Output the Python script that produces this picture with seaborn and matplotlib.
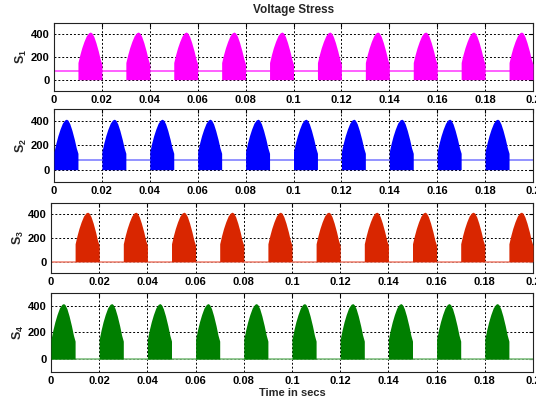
import numpy as np
import pandas as pd
import matplotlib
matplotlib.use("Agg")
import matplotlib.pyplot as plt
import seaborn as sns

# --- data -------------------------------------------------------------
switch_names = ["S1", "S2", "S3", "S4"]
ylabels = [r"$\mathbf{S_1}$", r"$\mathbf{S_2}$", r"$\mathbf{S_3}$", r"$\mathbf{S_4}$"]

# start time of each conducting-stress half cycle (s)
odd_starts = [0.01, 0.03, 0.05, 0.07, 0.09, 0.11, 0.13, 0.15, 0.17, 0.19]
even_starts = [0.00, 0.02, 0.04, 0.06, 0.08, 0.10, 0.12, 0.14, 0.16, 0.18]
half_cycle = 0.01

# envelope of the switched voltage across one half cycle (fraction, volts)
env_frac = [0.0, 0.08, 0.16, 0.25, 0.35, 0.45, 0.52, 0.58, 0.66, 0.75, 0.85, 0.93, 1.0]
env_volts = [150, 220, 280, 335, 385, 412, 418, 410, 380, 325, 250, 180, 135]

# blocking voltage held while the switch is idle (V)
idle_level = [80, 80, 0, 0]

x_ticks = [0, 0.02, 0.04, 0.06, 0.08, 0.1, 0.12, 0.14, 0.16, 0.18, 0.2]
x_ticklabels = ["0", "0.02", "0.04", "0.06", "0.08", "0.1", "0.12", "0.14", "0.16", "0.18", "0.2"]
y_ticks = [0, 200, 400]

# --- styling ----------------------------------------------------------
sns.set_style("white")
plt.rcParams["font.family"] = ["Liberation Sans", "DejaVu Sans"]
plt.rcParams["font.weight"] = "bold"
plt.rcParams["mathtext.fontset"] = "custom"
plt.rcParams["mathtext.bf"] = "Liberation Sans:bold"
plt.rcParams["mathtext.rm"] = "Liberation Sans"

fill_colors = ["#ff00ff", "#0000ff", "#d92600", "#007f00"]
line_colors = ["#ff44ff", "#8080ff", "#f08878", "#80c080"]

starts_by_switch = [odd_starts, even_starts, odd_starts, even_starts]

# axes boxes in figure pixels: left, right, top, bottom
W, H = 536, 401
boxes = [(54, 533, 22.7, 91.0), (54, 533, 109.3, 181.7),
         (51, 533, 202.5, 273.3), (51, 533, 292.7, 372.3)]

fig = plt.figure(figsize=(W / 100, H / 100), dpi=100)
axes = []
for i, name in enumerate(switch_names):
    l, r, t, b = boxes[i]
    ax = fig.add_axes([l / W, 1 - b / H, (r - l) / W, (b - t) / H])
    axes.append(ax)

    idle = pd.DataFrame({"t": [0.0, 0.2], "v": [idle_level[i]] * 2})
    sns.lineplot(data=idle, x="t", y="v", ax=ax, color=line_colors[i],
                 linewidth=1.2, zorder=2)

    for s in starts_by_switch[i]:
        seg = pd.DataFrame({"t": s + np.asarray(env_frac) * half_cycle,
                            "v": env_volts})
        ax.fill_between(seg["t"], 0, seg["v"], color=fill_colors[i],
                        linewidth=0, zorder=3)

    ax.set_xlim(0, 0.2)
    ax.set_ylim(-100, 500)
    ax.set_xticks(x_ticks)
    ax.set_xticklabels(x_ticklabels)
    ax.set_yticks(y_ticks)
    ax.set_xlabel("")
    ax.set_ylabel(ylabels[i], fontsize=9, fontweight="bold")
    ax.yaxis.set_label_coords(-0.052, 0.5)
    ax.grid(True, color="black", linestyle=(0, (2, 2)), linewidth=0.7)
    ax.set_axisbelow(True)
    ax.tick_params(direction="in", length=3, labelsize=8, pad=3,
                   top=True, right=True, colors="black")
    for lab in ax.get_xticklabels() + ax.get_yticklabels():
        lab.set_fontweight("bold")
    for sp in ax.spines.values():
        sp.set_visible(True)
        sp.set_color("#222222")
        sp.set_linewidth(0.8)

axes[0].set_title("Voltage Stress", fontsize=8.5, fontweight="bold", pad=7)
axes[-1].set_xlabel("Time in secs", fontsize=8, fontweight="bold", labelpad=1)

fig.savefig("out.png", dpi=100, facecolor="white")
